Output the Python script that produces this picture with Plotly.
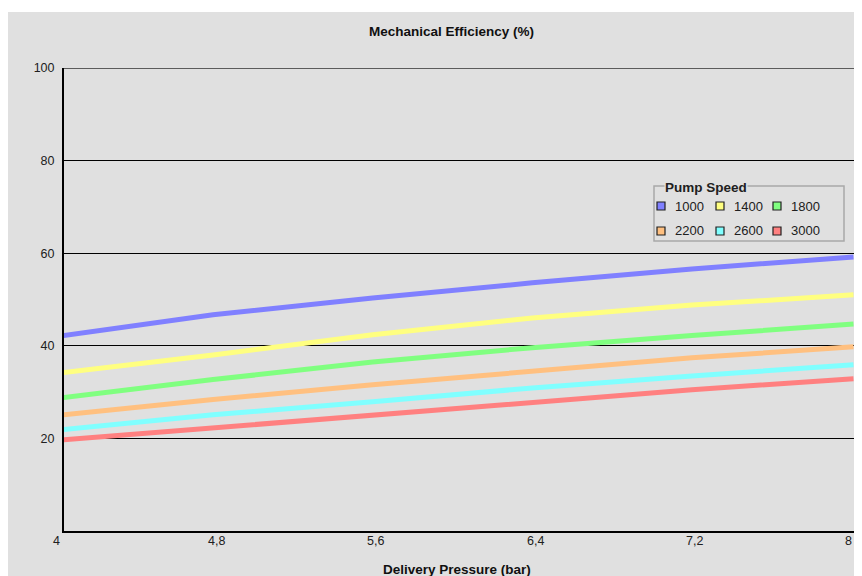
import plotly.graph_objects as go

# ---- data ----
pressure = [4.05, 4.8, 5.6, 6.4, 7.2, 8.01]
speeds = ["1000", "1400", "1800", "2200", "2600", "3000"]
eff_1000 = [42.2, 46.7, 50.3, 53.6, 56.6, 59.2]
eff_1400 = [34.2, 38.0, 42.4, 46.0, 48.8, 51.0]
eff_1800 = [28.8, 32.7, 36.5, 39.6, 42.2, 44.7]
eff_2200 = [25.1, 28.4, 31.6, 34.6, 37.4, 39.8]
eff_2600 = [21.9, 25.1, 27.9, 30.9, 33.5, 35.9]
eff_3000 = [19.7, 22.3, 25.1, 27.9, 30.5, 32.9]
series = [eff_1000, eff_1400, eff_1800, eff_2200, eff_2600, eff_3000]
colors = ["#8080ff", "#ffff80", "#80ff80", "#ffc080", "#80ffff", "#ff8080"]

x_ticks = [4.0, 4.8, 5.6, 6.4, 7.2, 8.0]
x_ticktext = ["4", "4,8", "5,6", "6,4", "7,2", "8"]
y_ticks = [20, 40, 60, 80, 100]
y_ticktext = ["20", "40", "60", "80", "100"]
X_RANGE = [4.053, 8.0125]

OFF = 8  # page body margin
W, H = 862 - 2 * OFF, 576 - OFF
# plot area in page pixels
L, R, T, B = 64, 854, 68, 531
FONT = "Liberation Sans, Arial, sans-serif"
TXT = "#202020"


def px(x):
    return (x - L) / (R - L)


def py(y):
    return (B - y) / (B - T)


fig = go.Figure()
for name, ys, c in zip(speeds, series, colors):
    fig.add_trace(go.Scatter(x=pressure, y=ys, mode="lines", name=name,
                             line=dict(color=c, width=5), showlegend=False))

shapes = []
annotations = []

# white strip at top of image
shapes.append(dict(type="rect", xref="paper", yref="paper", x0=px(-10), x1=px(880),
                   y0=py(12), y1=py(-5), fillcolor="white", line=dict(width=0), layer="below"))
# top border line at 100
shapes.append(dict(type="line", xref="paper", yref="y", x0=0, x1=1, y0=100, y1=100,
                   line=dict(color="#303030", width=1.5)))

# legend box
shapes.append(dict(type="rect", xref="paper", yref="paper", x0=px(654), x1=px(844),
                   y0=py(241), y1=py(186), line=dict(color="#a8a8a8", width=1.5),
                   fillcolor="rgba(0,0,0,0)"))
annotations.append(dict(text="<b>Pump Speed</b>", xref="paper", yref="paper",
                        x=px(664), y=py(187), xanchor="left", yanchor="middle",
                        showarrow=False, bgcolor="#e0e0e0", borderpad=0,
                        font=dict(family=FONT, size=13.5, color=TXT)))
col_x = [657, 716, 773]
row_y = [206, 231]
for i, (name, c) in enumerate(zip(speeds, colors)):
    cx = col_x[i % 3]
    cy = row_y[i // 3]
    shapes.append(dict(type="rect", xref="paper", yref="paper",
                       x0=px(cx), x1=px(cx + 8), y0=py(cy + 4), y1=py(cy - 4),
                       fillcolor=c, line=dict(color="#202020", width=1.2)))
    annotations.append(dict(text=name, xref="paper", yref="paper",
                            x=px(cx + 17), y=py(cy), xanchor="left", yanchor="middle",
                            showarrow=False, borderpad=0,
                            font=dict(family=FONT, size=13, color=TXT)))

# x tick labels (placed via the x scale, some lie just outside the plotted range)
for v, t in zip(x_ticks, x_ticktext):
    frac = (v - X_RANGE[0]) / (X_RANGE[1] - X_RANGE[0]) + 3.0 / (R - L)
    anchor = "center"
    if frac > 1 - 4.0 / (R - L):
        frac, anchor = 1.0, "right"
    annotations.append(dict(text=t, xref="paper", yref="paper", x=frac,
                            y=py(541), xanchor=anchor, yanchor="middle", showarrow=False,
                            font=dict(family=FONT, size=12.5, color=TXT)))

# title
annotations.append(dict(text="<b>Mechanical Efficiency (%)</b>", xref="paper", yref="paper",
                        x=px(451), y=py(31), xanchor="center", yanchor="middle",
                        showarrow=False, font=dict(family=FONT, size=13.5, color="#101010")))
# x axis title
annotations.append(dict(text="<b>Delivery Pressure (bar)</b>", xref="paper", yref="paper",
                        x=px(457), y=py(569), xanchor="center", yanchor="middle",
                        showarrow=False, font=dict(family=FONT, size=13.5, color="#101010")))

fig.update_layout(
    width=W, height=H,
    margin=dict(l=L - OFF, r=W - (R - OFF), t=T - OFF, b=H - (B - OFF), pad=0),
    paper_bgcolor="#e0e0e0", plot_bgcolor="#e0e0e0",
    shapes=shapes, annotations=annotations,
    font=dict(family=FONT, size=12, color=TXT),
    showlegend=False,
)
fig.update_xaxes(range=X_RANGE, showticklabels=False,
                 showgrid=False, zeroline=False, showline=True, linecolor="black",
                 linewidth=2, ticks="")
fig.update_yaxes(range=[0, 100], tickvals=y_ticks, ticktext=y_ticktext,
                 showgrid=True, gridcolor="black", gridwidth=1, zeroline=False,
                 showline=True, linecolor="black", linewidth=2, ticks="",
                 ticklabelstandoff=5,
                 tickfont=dict(family=FONT, size=12.5, color=TXT))

fig.write_html("out.html")
